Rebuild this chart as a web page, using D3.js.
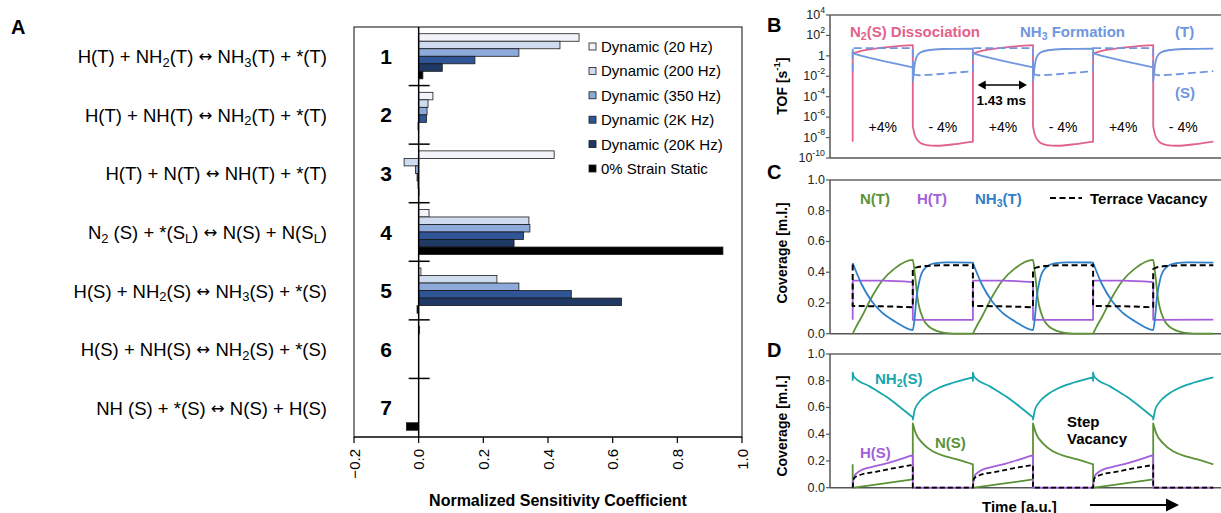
<!DOCTYPE html>
<html>
<head>
<meta charset="utf-8">
<script src="https://cdn.jsdelivr.net/npm/d3@7"></script>
<style>
  body { margin: 0; background: #fff; }
  svg { font-family: 'Liberation Sans', Arial, sans-serif; }
</style>
</head>
<body>
<svg id="fig" width="1221" height="513"></svg>
<script>
// ---------- panel A data ----------
const reactions = [
  'H(T) + NH_{2}(T) ↔ NH_{3}(T) + *(T)',
  'H(T) + NH(T) ↔ NH_{2}(T) + *(T)',
  'H(T) + N(T) ↔ NH(T) + *(T)',
  'N_{2} (S) + *(S_{L}) ↔ N(S) + N(S_{L})',
  'H(S) + NH_{2}(S) ↔ NH_{3}(S) + *(S)',
  'H(S) + NH(S) ↔ NH_{2}(S) + *(S)',
  'NH (S) + *(S) ↔ N(S) + H(S)'
]
const stepIds = [1, 2, 3, 4, 5, 6, 7]
const seriesNames = ['Dynamic (20 Hz)', 'Dynamic (200 Hz)', 'Dynamic (350 Hz)',
  'Dynamic (2K Hz)', 'Dynamic (20K Hz)', '0% Strain Static']
const hz20   = [0.496, 0.044, 0.419, 0.032, 0.007, 0.003, 0]
const hz200  = [0.437, 0.029, -0.045, 0.341, 0.242, 0, 0]
const hz350  = [0.310, 0.026, -0.010, 0.344, 0.310, 0, 0]
const hz2k   = [0.174, 0.024, -0.005, 0.324, 0.472, 0, 0]
const hz20k  = [0.073, -0.002, -0.002, 0.295, 0.627, 0, 0]
const static0 = [0.013, 0, 0.001, 0.941, -0.005, 0, -0.038]
const sensTicks = [-0.2, 0, 0.2, 0.4, 0.6, 0.8, 1.0]

// ---------- panels B-D data (one strain cycle, t in half periods) ----------
const cycleStarts = [0, 2, 4]
const phaseLabels = ['+4%', '- 4%', '+4%', '- 4%', '+4%', '- 4%']
const tofTicks = [-10, -8, -6, -4, -2, 0, 2, 4]     // log10 TOF
const covTicks = [0, 0.2, 0.4, 0.6, 0.8, 1.0]

// log10 TOF
const tofN2Diss = [[0, -8.4], [0, 0.25], [0.1, 0.42], [0.25, 0.6], [0.5, 0.8], [0.75, 0.95], [1, 1.05],
  [1, -6.9], [1.03, -7.7], [1.06, -8.1], [1.12, -8.5], [1.23, -8.73], [1.39, -8.8], [1.7, -8.65], [2, -8.4]]
const tofNH3T = [[0, 0.7], [0, 0.25], [0.25, -0.15], [0.5, -0.5], [0.75, -0.82], [1, -1.12],
  [1, -2.5], [1.01, -2.0], [1.03, -0.9], [1.06, -0.15], [1.12, 0.3], [1.25, 0.55], [1.5, 0.67], [2, 0.7]]
const tofNH3S = [[0, -1.5], [0, 0.75], [0.5, 0.75], [1, 0.75],
  [1, -1.6], [1.04, -1.85], [1.1, -1.9], [1.4, -1.8], [1.7, -1.65], [2, -1.5]]

// coverage, terrace
const covNT = [[0, 0], [0.05, 0.04], [0.15, 0.11], [0.32, 0.24], [0.48, 0.34], [0.7, 0.425], [1, 0.48],
  [1.03, 0.40], [1.08, 0.23], [1.17, 0.10], [1.31, 0.035], [1.53, 0.006], [1.8, 0], [2, 0]]
const covHT = [[0, 0.09], [0, 0.345], [0.5, 0.345], [1, 0.335], [1, 0.09], [2, 0.092]]
const covNH3T = [[0, 0.46], [0.15, 0.32], [0.32, 0.21], [0.48, 0.14], [0.7, 0.08], [1, 0.024],
  [1.03, 0.10], [1.06, 0.23], [1.12, 0.36], [1.2, 0.425], [1.36, 0.458], [1.58, 0.464], [2, 0.463]]
const covVacT = [[0, 0.45], [0, 0.18], [0.5, 0.178], [1, 0.172],
  [1, 0.42], [1.05, 0.43], [1.2, 0.44], [1.5, 0.445], [2, 0.445]]

// coverage, step
const covNH2S = [[0, 0.80], [0, 0.86], [0.02, 0.83], [0.29, 0.756], [0.56, 0.68], [0.78, 0.606], [1, 0.526],
  [1, 0.51], [1.01, 0.53], [1.03, 0.58], [1.11, 0.643], [1.23, 0.693], [1.45, 0.75], [1.67, 0.785], [2, 0.825]]
const covNS = [[0, 0.175], [0, 0], [0.5, 0.03], [1, 0.062],
  [1, 0.48], [1.05, 0.406], [1.17, 0.33], [1.34, 0.27], [1.56, 0.232], [1.78, 0.207], [2, 0.175]]
const covHS = [[0, 0], [0.02, 0.08], [0.1, 0.12], [0.34, 0.157], [0.56, 0.182], [0.78, 0.212], [1, 0.244],
  [1, 0], [2, 0]]
const covVacS = [[0, 0], [0.02, 0.07], [0.12, 0.095], [0.4, 0.12], [0.67, 0.145], [1, 0.17],
  [1, 0], [2, 0]]

// ---------- helpers ----------
const svg = d3.select('#fig')
svg.append('rect').attr('width', 1221).attr('height', 513).attr('fill', '#fff')

// text with _{sub}, ^{sup} and a wider arrow glyph
function rich(text, str, size) {
  const parts = str.split(/(_\{[^}]*\}|\^\{[^}]*\}|↔)/).filter(s => s.length)
  let shift = 0
  parts.forEach(p => {
    let target = 0, fs = size, content = p, fam = null
    if (p[0] === '_' || p[0] === '^') {
      target = p[0] === '_' ? size * 0.3 : -size * 0.42
      fs = size * 0.7
      content = p.slice(2, -1)
    } else if (p === '↔') {
      fs = size * 0.9
      fam = "'DejaVu Sans'"
    }
    const ts = text.append('tspan')
      .attr('dy', target - shift)
      .style('font-size', fs + 'px')
      .text(content)
    if (fam) ts.style('font-family', fam)
    shift = target
  })
  return text
}

function label(x, y, str, opts = {}) {
  const size = opts.size || 15
  const t = svg.append('text')
    .attr('x', x).attr('y', y)
    .attr('text-anchor', opts.anchor || 'start')
    .attr('dominant-baseline', 'central')
    .attr('fill', opts.color || '#000')
    .style('font-weight', opts.bold ? 'bold' : 'normal')
    .style('font-size', size + 'px')
  return rich(t, str, size)
}

// ---------- panel A ----------
const A = { left: 354, right: 742, top: 27, bottom: 437 }
const barColors = ['#f2f4fa', '#cfdcf0', '#8eaadb', '#2f5597', '#203864', '#000000']
const seriesValues = [hz20, hz200, hz350, hz2k, hz20k, static0]

const xSens = d3.scaleLinear().domain([-0.2, 1]).range([A.left, A.right])
const yStep = d3.scaleBand().domain(stepIds).range([A.top, A.bottom])
const bw = yStep.bandwidth()
const ySeries = d3.scaleBand().domain(seriesNames).range([0.115 * bw, 0.885 * bw])

svg.append('rect')
  .attr('x', A.left).attr('y', A.top)
  .attr('width', A.right - A.left).attr('height', A.bottom - A.top)
  .attr('fill', 'none').attr('stroke', '#333').attr('stroke-width', 1.2)

const barData = seriesNames.flatMap((name, i) =>
  stepIds.map((id, j) => ({ name, id, value: seriesValues[i][j], color: barColors[i] })))

svg.append('g')
  .selectAll('rect')
  .data(barData.filter(d => d.value !== 0))
  .join('rect')
    .attr('x', d => xSens(Math.min(0, d.value)))
    .attr('y', d => yStep(d.id) + ySeries(d.name))
    .attr('width', d => Math.abs(xSens(d.value) - xSens(0)))
    .attr('height', ySeries.bandwidth())
    .attr('fill', d => d.color)
    .attr('stroke', '#1a1a1a')
    .attr('stroke-width', 0.8)

// zero line with category separators
svg.append('line')
  .attr('x1', xSens(0)).attr('x2', xSens(0))
  .attr('y1', A.top).attr('y2', A.bottom)
  .attr('stroke', '#000').attr('stroke-width', 1.5)
svg.append('g')
  .selectAll('line')
  .data(stepIds.slice(1))
  .join('line')
    .attr('x1', xSens(0) - 10).attr('x2', xSens(0) + 11)
    .attr('y1', d => yStep(d)).attr('y2', d => yStep(d))
    .attr('stroke', '#000').attr('stroke-width', 1.5)

// step numbers
svg.append('g')
  .selectAll('text')
  .data(stepIds)
  .join('text')
    .attr('x', 386).attr('y', d => yStep(d) + bw / 2)
    .attr('text-anchor', 'middle').attr('dominant-baseline', 'central')
    .style('font-size', '21px').style('font-weight', 'bold')
    .text(d => d)

// reaction labels
reactions.forEach((r, i) => label(327, yStep(stepIds[i]) + bw / 2, r, { anchor: 'end', size: 18.5 }))

// x axis
const axA = svg.append('g').attr('transform', `translate(0,${A.bottom})`)
axA.append('line').attr('x1', A.left).attr('x2', A.right).attr('stroke', '#000').attr('stroke-width', 1.2)
axA.selectAll('.tk')
  .data(sensTicks)
  .join('line')
    .attr('class', 'tk')
    .attr('x1', d => xSens(d)).attr('x2', d => xSens(d))
    .attr('y1', 0).attr('y2', 6)
    .attr('stroke', '#000').attr('stroke-width', 1.2)
axA.selectAll('text')
  .data(sensTicks)
  .join('text')
    .attr('transform', d => `translate(${xSens(d)},12) rotate(-90)`)
    .attr('text-anchor', 'end').attr('dominant-baseline', 'central')
    .style('font-size', '15px')
    .text(d => d3.format('.1f')(d))
svg.append('text')
  .attr('x', 558).attr('y', 500)
  .attr('text-anchor', 'middle').attr('dominant-baseline', 'central')
  .style('font-size', '16px').style('font-weight', 'bold')
  .text('Normalized Sensitivity Coefficient')

// legend
const leg = svg.append('g').attr('transform', 'translate(589,46.5)')
seriesNames.forEach((name, i) => {
  const g = leg.append('g').attr('transform', `translate(0,${i * 24.4})`)
  g.append('rect').attr('x', 0).attr('y', -3.5).attr('width', 7).attr('height', 7)
    .attr('fill', barColors[i]).attr('stroke', '#1a1a1a').attr('stroke-width', 0.8)
  g.append('text').attr('x', 12).attr('y', 0).attr('dominant-baseline', 'central')
    .style('font-size', '15px').text(name)
})

label(11, 27, 'A', { size: 20, bold: true })

// ---------- panels B-D ----------
const xT = d3.scaleLinear().domain([0, 6]).range([852.7, 1213.3])
const frameL = 830, frameR = 1221
const tile = arr => cycleStarts.flatMap(c => arr.map(([t, v]) => [t + c, v]))

function frame(top, bottom, y, ticks, fmt, title, titleY) {
  svg.append('line').attr('x1', frameL).attr('x2', frameR).attr('y1', top).attr('y2', top)
    .attr('stroke', '#666').attr('stroke-width', 1.5)
  svg.append('line').attr('x1', frameL).attr('x2', frameR).attr('y1', bottom).attr('y2', bottom)
    .attr('stroke', '#555').attr('stroke-width', 1.5)
  svg.append('line').attr('x1', frameL).attr('x2', frameL).attr('y1', top).attr('y2', bottom)
    .attr('stroke', '#555').attr('stroke-width', 1.5)
  ticks.forEach(t => {
    svg.append('line').attr('x1', frameL - 4).attr('x2', frameL).attr('y1', y(t)).attr('y2', y(t))
      .attr('stroke', '#555').attr('stroke-width', 1.2)
    label(825, y(t), fmt(t), { anchor: 'end', size: 12.5, color: '#222' })
  })
  const tt = svg.append('text')
    .attr('transform', `translate(782,${titleY}) rotate(-90)`)
    .attr('text-anchor', 'middle').attr('dominant-baseline', 'central')
    .style('font-size', '14px').style('font-weight', 'bold')
  rich(tt, title, 14)
}

// smooth runs between the vertical jumps at strain switches
function curve(data, y, color, width, dash) {
  const pts = tile(data)
  const runs = [[pts[0]]]
  for (let i = 1; i < pts.length; i++) {
    if (pts[i][0] === pts[i - 1][0]) runs.push([pts[i]])
    else runs[runs.length - 1].push(pts[i])
  }
  const line = d3.line().x(d => xT(d[0])).y(d => y(d[1])).curve(d3.curveMonotoneX)
  const d = runs.map((r, i) => {
    const s = r.length > 1 ? line(r) : `M${xT(r[0][0])},${y(r[0][1])}`
    return i === 0 ? s : 'L' + s.slice(1)
  }).join('')
  svg.append('path')
    .attr('d', d)
    .attr('fill', 'none')
    .attr('stroke', color)
    .attr('stroke-width', width)
    .attr('stroke-linejoin', 'round')
    .attr('stroke-dasharray', dash || null)
}

// B
const yTof = d3.scaleLinear().domain([-10, 4]).range([158, 15])
frame(15, 158, yTof, tofTicks, e => e === 0 ? '1' : `10^{${e}}`, 'TOF [s^{-1}]', 86)
const pink = '#e2628c', blueB = '#6f96de'
curve(tofN2Diss, yTof, pink, 1.8)
curve(tofNH3T, yTof, blueB, 1.8)
curve(tofNH3S, yTof, blueB, 1.8, '8,4')
phaseLabels.forEach((p, i) => label(xT(i + 0.5), 127, p, { anchor: 'middle', size: 14 }))
label(850, 31, 'N_{2}(S) Dissociation', { size: 15, bold: true, color: pink })
label(1020, 31, 'NH_{3} Formation', { size: 15, bold: true, color: blueB })
label(1175, 31, '(T)', { size: 15, bold: true, color: blueB })
label(1175, 92, '(S)', { size: 15, bold: true, color: blueB })
// half-period arrow
const arrY = 85, ax1 = xT(2.08), ax2 = xT(2.9)
svg.append('line').attr('x1', ax1 + 6).attr('x2', ax2 - 6).attr('y1', arrY).attr('y2', arrY)
  .attr('stroke', '#000').attr('stroke-width', 1.6)
svg.append('path').attr('d', `M${ax1},${arrY} l8,-4.5 v9 z M${ax2},${arrY} l-8,-4.5 v9 z`).attr('fill', '#000')
label(976.5, 100, '1.43 ms', { size: 13.5, bold: true })
label(767, 25, 'B', { size: 20, bold: true })

// C
const yCovC = d3.scaleLinear().domain([0, 1]).range([333.7, 180])
frame(180, 333.7, yCovC, covTicks, d3.format('.1f'), 'Coverage [m.l.]', 253)
const green = '#5b9236', purple = '#a35fdb', blueC = '#2f80c8', teal = '#16a6ad'
curve(covNT, yCovC, green, 1.8)
curve(covHT, yCovC, purple, 1.8)
curve(covNH3T, yCovC, blueC, 1.8)
curve(covVacT, yCovC, '#000', 2, '6,3.5')
label(860, 198, 'N(T)', { size: 15, bold: true, color: green })
label(917, 198, 'H(T)', { size: 15, bold: true, color: purple })
label(975, 198, 'NH_{3}(T)', { size: 15, bold: true, color: blueC })
svg.append('line').attr('x1', 1050).attr('x2', 1082).attr('y1', 198).attr('y2', 198)
  .attr('stroke', '#000').attr('stroke-width', 2).attr('stroke-dasharray', '6,3.5')
label(1090, 198, 'Terrace Vacancy', { size: 15, bold: true })
label(767, 172, 'C', { size: 20, bold: true })

// D
const yCovD = d3.scaleLinear().domain([0, 1]).range([487.7, 354])
frame(354, 487.7, yCovD, covTicks, d3.format('.1f'), 'Coverage [m.l.]', 426)
curve(covNH2S, yCovD, teal, 1.8)
curve(covNS, yCovD, green, 1.8)
curve(covHS, yCovD, purple, 1.8)
curve(covVacS, yCovD, '#000', 1.8, '5,3')
label(875, 378, 'NH_{2}(S)', { size: 15, bold: true, color: teal })
label(860, 452, 'H(S)', { size: 15, bold: true, color: purple })
label(935, 442, 'N(S)', { size: 15, bold: true, color: green })
label(1067, 421, 'Step', { size: 15, bold: true })
label(1067, 438, 'Vacancy', { size: 15, bold: true })
label(982, 506, 'Time [a.u.]', { size: 15, bold: true })
svg.append('line').attr('x1', 1090).attr('x2', 1168).attr('y1', 505).attr('y2', 505)
  .attr('stroke', '#000').attr('stroke-width', 1.8)
svg.append('path').attr('d', 'M1179,505 l-13,-6.5 v13 z').attr('fill', '#000')
label(767, 350, 'D', { size: 20, bold: true })
</script>
</body>
</html>
